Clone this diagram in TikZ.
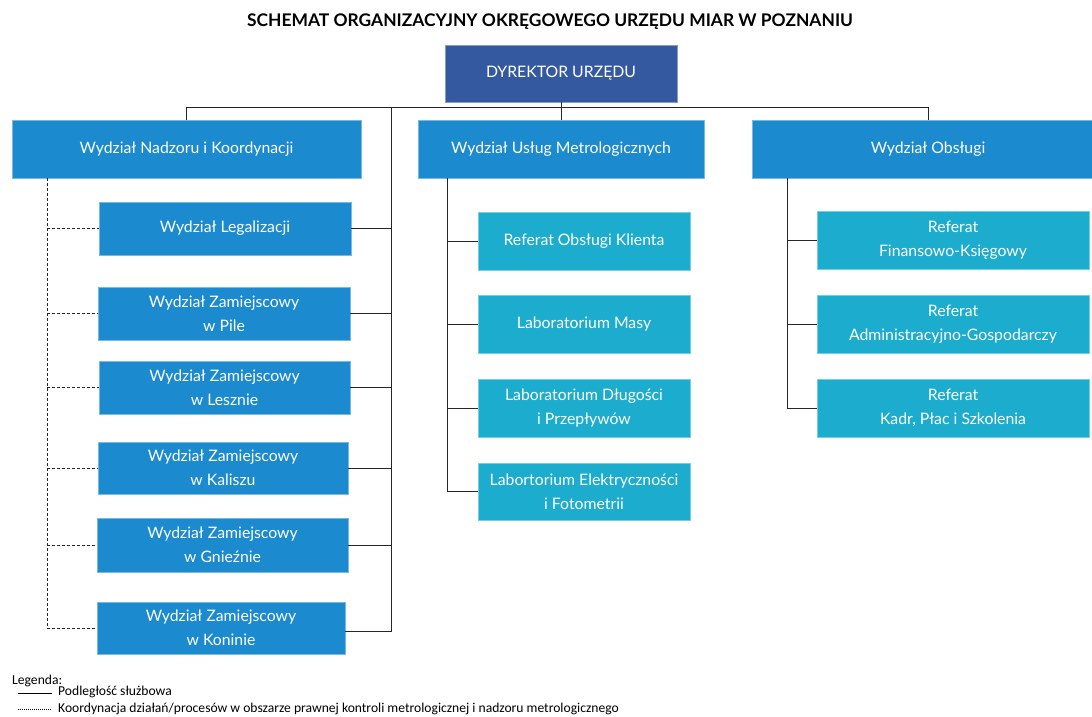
\documentclass[tikz,border=0pt]{standalone}
\usepackage{fontspec}
\setmainfont{Lato}
\newfontfamily\legfont{Carlito}
\begin{document}
\begin{tikzpicture}[x=1pt,y=-1pt,
  box/.style={draw=#1!60!white,line width=0.6pt,fill=#1,text=white,inner sep=0pt,align=center,font=\fontsize{15.8}{24}\selectfont},
  mainbox/.style={box=mainblue},
  subbox/.style={box=cyanblue},
  conn/.style={draw=black!85,line width=0.9pt},
  dconn/.style={draw=black!85,line width=0.9pt,dash pattern=on 3pt off 2pt}]
\definecolor{mainblue}{HTML}{1C8ACE}
\definecolor{cyanblue}{HTML}{1CACCE}
\definecolor{dirblue}{HTML}{3559A0}
\useasboundingbox (0,0) rectangle (1092,716);
\node[font=\fontsize{17.4}{19}\selectfont\bfseries] (title) at (550,22) {SCHEMAT ORGANIZACYJNY OKRĘGOWEGO URZĘDU MIAR W POZNANIU};
\node[box=dirblue,minimum width=232pt,minimum height=57pt] (dir) at (561,73.5) {DYREKTOR URZĘDU};
% level 1
\node[mainbox,minimum width=349pt,minimum height=58pt] (nk) at (186.5,149) {Wydział Nadzoru i Koordynacji};
\node[mainbox,minimum width=286pt,minimum height=58pt] (um) at (561,149) {Wydział Usług Metrologicznych};
\node[mainbox,minimum width=352pt,minimum height=58pt] (ob) at (928,149) {Wydział Obsługi};
% left column
\node[mainbox,minimum width=252pt,minimum height=53pt] (leg) at (225,228.5) {Wydział Legalizacji};
\node[mainbox,minimum width=252pt,minimum height=53pt] (pil) at (224,313.5) {Wydział Zamiejscowy\\w Pile};
\node[mainbox,minimum width=251pt,minimum height=53pt] (les) at (224.5,387.5) {Wydział Zamiejscowy\\w Lesznie};
\node[mainbox,minimum width=250pt,minimum height=52pt] (kal) at (223,468) {Wydział Zamiejscowy\\w Kaliszu};
\node[mainbox,minimum width=251pt,minimum height=54pt] (gni) at (222.5,545) {Wydział Zamiejscowy\\w Gnieźnie};
\node[mainbox,minimum width=248pt,minimum height=52pt] (kon) at (221,628) {Wydział Zamiejscowy\\w Koninie};
% middle column
\node[subbox,minimum width=212pt,minimum height=58pt] (rok) at (584,241) {Referat Obsługi Klienta};
\node[subbox,minimum width=212pt,minimum height=58pt] (lm) at (584,324) {Laboratorium Masy};
\node[subbox,minimum width=212pt,minimum height=58pt] (ld) at (584,408) {Laboratorium Długości\\i Przepływów};
\node[subbox,minimum width=212pt,minimum height=57pt] (le) at (584,491.5) {Labortorium Elektryczności\\i Fotometrii};
% right column
\node[subbox,minimum width=272pt,minimum height=58pt] (rfk) at (953,240) {Referat\\Finansowo-Księgowy};
\node[subbox,minimum width=272pt,minimum height=58pt] (rag) at (953,324) {Referat\\Administracyjno-Gospodarczy};
\node[subbox,minimum width=272pt,minimum height=58pt] (rkp) at (953,408) {Referat\\Kadr, Płac i Szkolenia};
% top connectors
\coordinate (hl) at (186,107);
\coordinate (hr) at (928,107);
\coordinate (vtop) at (391,107);
\draw[conn] (dir.south) -- (um.north);
\draw[conn] (nk.north -| hl) -- (hl) -- (hr) -- (ob.north -| hr);
% left solid spine
\draw[conn] (vtop) -- (391,631) -- (kon.east |- 0,631);
\foreach \n in {leg,pil,les,kal,gni} \draw[conn] (\n.east) -- (\n.east -| vtop);
% dashed coordination
\coordinate (dtop) at (47,178);
\draw[dconn] (nk.south -| dtop) -- (47,628) -- (kon.west);
\foreach \n in {leg,pil,les,kal,gni} \draw[dconn] (\n.west -| dtop) -- (\n.west);
% middle spine
\coordinate (mtop) at (447,178);
\draw[conn] (um.south -| mtop) -- (mtop |- le.west) -- (le.west);
\foreach \n in {rok,lm,ld} \draw[conn] (\n.west -| mtop) -- (\n.west);
% right spine
\coordinate (rtop) at (787,178);
\draw[conn] (ob.south -| rtop) -- (rtop |- rkp.west) -- (rkp.west);
\foreach \n in {rfk,rag} \draw[conn] (\n.west -| rtop) -- (\n.west);
% legend
\node[font=\legfont\fontsize{13.6}{15}\selectfont,anchor=base west,inner sep=0pt] (lg) at (12,684) {Legenda:};
\coordinate (l1a) at (18,693);
\coordinate (l1b) at (52,693);
\coordinate (l2a) at (18,709);
\coordinate (l2b) at (52,709);
\draw[black,line width=0.8pt] (l1a) -- (l1b);
\draw[black,line width=0.8pt,dash pattern=on 1pt off 1pt] (l2a) -- (l2b);
\node[font=\legfont\fontsize{13.6}{15}\selectfont,anchor=west,inner sep=0pt] (lt1) at (58,692) {Podległość służbowa};
\node[font=\legfont\fontsize{13.6}{15}\selectfont,anchor=west,inner sep=0pt] (lt2) at (58,708.5) {Koordynacja działań/procesów w obszarze prawnej kontroli metrologicznej i nadzoru metrologicznego};
\end{tikzpicture}
\end{document}
